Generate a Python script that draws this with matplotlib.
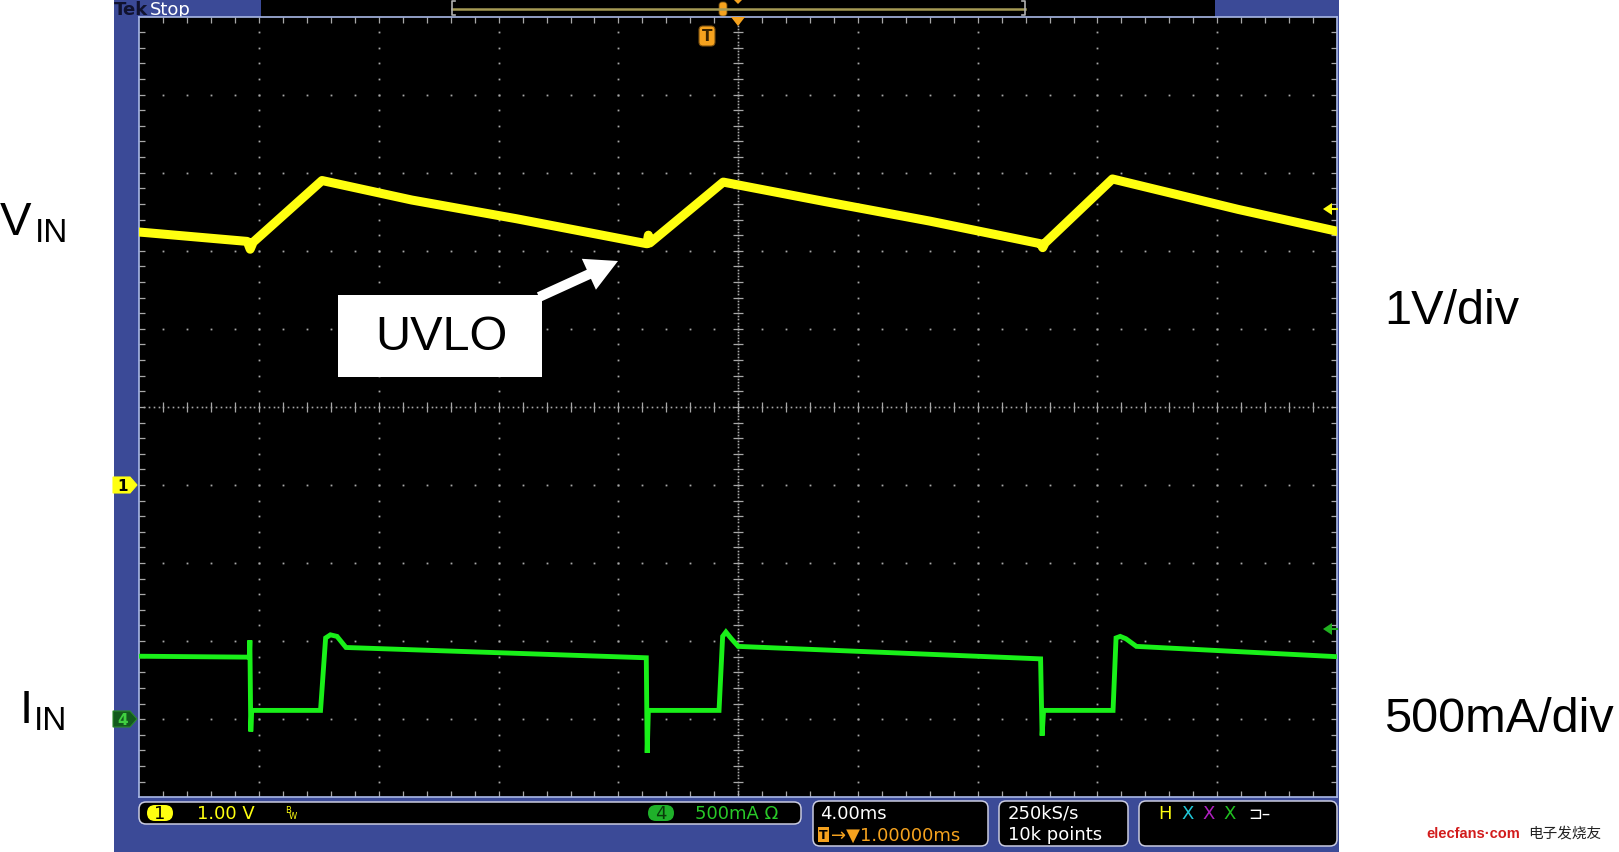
import numpy as np
import matplotlib
matplotlib.use("Agg")
import matplotlib.pyplot as plt
from matplotlib.patches import Rectangle, FancyBboxPatch, Polygon, FancyArrow
from matplotlib.collections import LineCollection

W, H = 1619, 853

# ch1 = input voltage [V], ch4 = input current [mA], time relative to trigger [ms]
t_vin = [-19.0, -15.4, -15.3, -15.2, -12.9, -9.9, -6.4, -2.05, -2.0, -1.95,
         0.5, 3.9, 7.4, 11.1, 11.17, 11.25, 13.5, 17.7, 21.0]
vin = [3.24, 3.12, 3.02, 3.11, 3.90, 3.65, 3.41, 3.09, 3.20, 3.10,
       3.88, 3.63, 3.38, 3.09, 3.04, 3.10, 3.92, 3.53, 3.25]

t_iin = [-19.0, -15.33, -15.31, -15.28, -15.25, -12.95, -12.78, -12.62, -12.4, -12.1,
         -2.07, -2.04, -2.0, 0.36, 0.48, 0.59, 0.75, 1.0,
         11.1, 11.15, 11.2, 13.52, 13.62, 13.76, 13.95, 14.3, 21.0]
iin = [403, 397, 505, -79, 56, 56, 520, 540, 530, 459,
       393, -216, 56, 56, 530, 558, 520, 466,
       386, -106, 56, 56, 520, 530, 515, 466, 400]

# scope settings
ms_per_div = 4.0
trig_div = 4.75          # trigger position from left edge, in divisions
v_per_div = 1.0
v_offset_div = -1        # ch1 ground marker
ma_per_div = 500.0
ma_offset_div = -4       # ch4 ground marker

side_labels = [("V", 0, 35, 235), ("I", 20, 34, 723)]
scale_labels = [("1V/div", 312), ("500mA/div", 720)]

BLUE = "#3b4a97"
YEL = "#ffff10"
GRN = "#19f019"
ORANGE = "#f5a21e"
DOT = "#a8a8a8"

fig = plt.figure(figsize=(W / 100, H / 100), dpi=100)
fig.patch.set_facecolor("white")


def pix_axes(z):
    a = fig.add_axes([0, 0, 1, 1], zorder=z)
    a.set_xlim(0, W)
    a.set_ylim(H, 0)
    a.axis("off")
    a.patch.set_alpha(0)
    return a


bg = pix_axes(0)
fg = pix_axes(10)

# scope frame
bg.add_patch(Rectangle((113.6, 0), 1339 - 113.6, H, fc=BLUE, ec="none"))
bg.add_patch(Rectangle((261, 0), 1215 - 261, 17.6, fc="black", ec="none"))
bg.text(114, 10, "Tek", color="#10122e", fontsize=13, fontweight="bold", va="center")
bg.text(150, 10, "Stop", color="white", fontsize=13, va="center")

# record view bar
bg.plot([452, 1025], [10.3, 10.3], color="#a59a55", lw=1.8)
for xb, d in [(452, 1), (1025, -1)]:
    bg.plot([xb + 3 * d, xb, xb, xb + 3 * d], [2, 2, 16, 16], color="#b0b0b0", lw=1.2)
bg.add_patch(FancyBboxPatch((719, 3), 8, 14, boxstyle="round,pad=0,rounding_size=3",
                            fc=ORANGE, ec="#6a4a10", lw=0.6))
bg.add_patch(Polygon([[733, 0], [743, 0], [738, 5]], closed=True, fc=ORANGE, ec="none"))

# graticule
gx0, gx1, gy0, gy1 = 139.4, 1337.0, 17.6, 798.2
pos = [gx0 / W, 1 - gy1 / H, (gx1 - gx0) / W, (gy1 - gy0) / H]
grat = fig.add_axes(pos, zorder=1)
grat.set_facecolor("black")
grat.set_xlim(0, 10)
grat.set_ylim(0, 10)
grat.set_xticks([])
grat.set_yticks([])
for s in grat.spines.values():
    s.set_color("#a9b8e6")
    s.set_linewidth(1.2)

minor = np.arange(0.2, 10, 0.2)
for k in range(1, 10):
    if k == 5:
        continue
    grat.plot(np.full_like(minor, k), minor, ls="none", marker="s", ms=1.3, color=DOT, mec="none")
    grat.plot(minor, np.full_like(minor, k), ls="none", marker="s", ms=1.3, color=DOT, mec="none")
fine = np.arange(0.04, 10, 0.04)
grat.plot(np.full_like(fine, 5), fine, ls="none", marker="s", ms=1.2, color=DOT, mec="none")
grat.plot(fine, np.full_like(fine, 5), ls="none", marker="s", ms=1.2, color=DOT, mec="none")
segs = []
for m in minor:
    segs += [[(5 - 0.04, m), (5 + 0.04, m)], [(m, 5 - 0.06), (m, 5 + 0.06)],
             [(m, 10), (m, 9.92)], [(m, 0), (m, 0.08)],
             [(0, m), (0.05, m)], [(10, m), (9.95, m)]]
grat.add_collection(LineCollection(segs, colors=DOT, linewidths=0.9))

# channel axes
xlim = (-trig_div * ms_per_div, (10 - trig_div) * ms_per_div)
ax1 = fig.add_axes(pos, zorder=2)
ax1.set_xlim(*xlim)
ax1.set_ylim((-5 - v_offset_div) * v_per_div, (5 - v_offset_div) * v_per_div)
ax1.axis("off")
ax1.patch.set_alpha(0)
ax1.plot(t_vin, vin, color=YEL, lw=6.5, solid_joinstyle="round")

ax4 = fig.add_axes(pos, zorder=3)
ax4.set_xlim(*xlim)
ax4.set_ylim((-5 - ma_offset_div) * ma_per_div, (5 - ma_offset_div) * ma_per_div)
ax4.axis("off")
ax4.patch.set_alpha(0)
ax4.plot(t_iin, iin, color=GRN, lw=3.5, solid_joinstyle="miter")

# trigger markers
fg.add_patch(FancyBboxPatch((699, 27), 16, 20, boxstyle="round,pad=0,rounding_size=4",
                            fc=ORANGE, ec="#7a5010", lw=0.8))
fg.text(707, 36.5, "T", color="#3a2400", fontsize=11, fontweight="bold", ha="center", va="center")
fg.add_patch(Polygon([[731, 18], [745, 18], [738, 27]], closed=True, fc=ORANGE, ec="none"))

# ground markers on the left
for yc, lab, fc, tc, ec in [(486, "1", YEL, "black", YEL), (720, "4", "#125a1c", "#40d040", "#2a8a2a")]:
    fg.add_patch(Polygon([[113, yc - 8], [130, yc - 8], [137, yc], [130, yc + 8], [113, yc + 8]],
                         closed=True, fc=fc, ec=ec, lw=0.8))
    fg.text(123, yc + 0.5, lab, color=tc, fontsize=11, fontweight="bold", ha="center", va="center")

# level arrows on the right
for yc, c in [(210, YEL), (630, "#20b020")]:
    fg.add_patch(Polygon([[1323, yc], [1332, yc - 6], [1332, yc + 6]], closed=True, fc=c, ec="none"))
    fg.plot([1332, 1337], [yc, yc], color=c, lw=1.5)

# UVLO callout
fg.add_patch(Rectangle((338, 296), 204, 82, fc="white", ec="none"))
fg.text(441, 337, "UVLO", fontsize=35, family="Liberation Sans", ha="center", va="center", color="black")
fg.add_patch(FancyArrow(539, 298, 79, -36, width=10, head_width=34, head_length=32,
                        length_includes_head=True, fc="white", ec="none"))

# status bar
def box(x, y, w, h):
    bg.add_patch(FancyBboxPatch((x, y), w, h, boxstyle="round,pad=0,rounding_size=7",
                                fc="black", ec="#c9cbe0", lw=1.1))


box(139, 803, 662, 22)
box(813, 802, 175, 45)
box(999, 802, 129, 45)
box(1139, 802, 198, 45)

st = dict(fontsize=13, va="center", family="DejaVu Sans")
bg.add_patch(FancyBboxPatch((147, 806), 26, 16, boxstyle="round,pad=0,rounding_size=8", fc=YEL, ec="none"))
bg.text(160, 814.5, "1", color="black", ha="center", **st)
bg.text(197, 814.5, "1.00 V", color=YEL, **st)
bg.text(285, 811, "B", color=YEL, fontsize=6, va="center")
bg.text(289, 817, "W", color=YEL, fontsize=6, va="center")
bg.add_patch(FancyBboxPatch((648, 806), 26, 16, boxstyle="round,pad=0,rounding_size=8", fc="#1fb02a", ec="none"))
bg.text(661, 814.5, "4", color="#0a3a0a", ha="center", **st)
bg.text(695, 814.5, "500mA Ω", color="#28c828", **st)

bg.text(820, 814, "4.00ms", color="white", **st)
bg.add_patch(Rectangle((818, 828), 11, 15, fc=ORANGE, ec="none"))
bg.text(823.5, 835.5, "T", color="black", fontsize=9, fontweight="bold", ha="center", va="center")
bg.text(831, 835.5, "→▼1.00000ms", color=ORANGE, **st)
bg.text(1008, 814, "250kS/s", color="white", **st)
bg.text(1008, 835.5, "10k points", color="white", **st)
for xh, lab, c in [(1158, "H", YEL), (1181, "X", "#20c8d8"), (1202, "X", "#b020c0"), (1223, "X", "#20c020")]:
    bg.text(xh, 814, lab, color=c, **st)
bg.text(1248, 814, "⊐–", color="white", fontsize=12, va="center")

# labels outside the screen
lab = dict(family="Liberation Sans", color="black")
for main, x_main, x_sub, yb in side_labels:
    fig.text(x_main / W, 1 - yb / H, main, fontsize=34, va="baseline", **lab)
    fig.text(x_sub / W, 1 - (yb + 7) / H, "IN", fontsize=24, va="baseline", **lab)
for txt, yc in scale_labels:
    fig.text(1384 / W, 1 - yc / H, txt, fontsize=35, va="center", **lab)

# watermark
fig.text(1520 / W, 1 - 834 / H, "elecfans·com", fontsize=10.5, color="#d21c1c",
         fontweight="bold", ha="right", va="center", family="Liberation Sans")
fig.text(1528 / W, 1 - 834 / H, "电子发烧友", fontsize=10.5, color="#222222",
         va="center", family=["Noto Sans CJK SC", "DejaVu Sans"])

fig.savefig("out.png", dpi=100)
